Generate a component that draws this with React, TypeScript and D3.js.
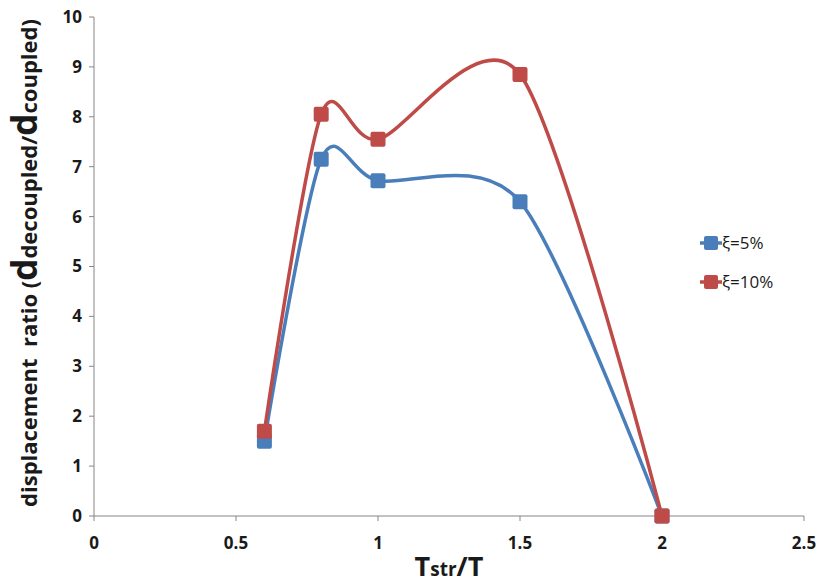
import * as d3 from "d3";

const xTicks = [0, 0.5, 1, 1.5, 2, 2.5];
const yTicks = [0, 1, 2, 3, 4, 5, 6, 7, 8, 9, 10];

const periodRatio = [0.6, 0.8, 1, 1.5, 2];
const damping5 = [1.5, 7.15, 6.72, 6.3, 0];
const damping10 = [1.7, 8.05, 7.55, 8.85, 0];

const series = [
  { label: "ξ=5%", values: damping5, color: "#4a7ebb" },
  { label: "ξ=10%", values: damping10, color: "#be4b48" },
];

export default function App() {
  const width = 818;
  const height = 583;
  const left = 94;
  const right = 804;
  const top = 17;
  const bottom = 516;

  const x = d3.scaleLinear().domain([0, 2.5]).range([left, right]);
  const y = d3.scaleLinear().domain([0, 10]).range([bottom, top]);

  const line = d3
    .line<[number, number]>()
    .x((d) => x(d[0]))
    .y((d) => y(d[1]))
    .curve(d3.curveCardinal.tension(0.15));

  const font = "'Open Sans', 'Liberation Sans', sans-serif";
  const axisColor = "#868686";
  const marker = 15;

  return (
    <svg
      width={width}
      height={height}
      style={{ position: "absolute", left: 0, top: 0, background: "#fff" }}
      fontFamily={font}
    >
      {/* axes */}
      <line x1={left} x2={left} y1={top} y2={bottom} stroke={axisColor} />
      <line x1={left} x2={right} y1={bottom} y2={bottom} stroke={axisColor} />
      {yTicks.map((t) => (
        <g key={t}>
          <line x1={left - 5} x2={left} y1={y(t)} y2={y(t)} stroke={axisColor} />
          <text
            x={left - 12}
            y={y(t)}
            dy="0.35em"
            textAnchor="end"
            fontSize={17}
            fontWeight="bold"
            fill="#1a1a1a"
          >
            {t}
          </text>
        </g>
      ))}
      {xTicks.map((t) => (
        <g key={t}>
          <line x1={x(t)} x2={x(t)} y1={bottom} y2={bottom + 5} stroke={axisColor} />
          <text
            x={x(t)}
            y={bottom + 33}
            textAnchor="middle"
            fontSize={17}
            fontWeight="bold"
            fill="#1a1a1a"
          >
            {t}
          </text>
        </g>
      ))}

      {/* series */}
      {series.map((s) => {
        const pts = periodRatio.map((p, i) => [p, s.values[i]] as [number, number]);
        return (
          <g key={s.label}>
            <path d={line(pts) ?? ""} fill="none" stroke={s.color} strokeWidth={3.5} />
            {pts.map((p, i) => (
              <rect
                key={i}
                x={x(p[0]) - marker / 2}
                y={y(p[1]) - marker / 2}
                width={marker}
                height={marker}
                rx={2}
                fill={s.color}
              />
            ))}
          </g>
        );
      })}

      {/* legend */}
      {series.map((s, i) => {
        const ly = 243 + i * 39;
        return (
          <g key={s.label}>
            <line x1={700} x2={722} y1={ly} y2={ly} stroke={s.color} strokeWidth={3.5} />
            <rect x={704} y={ly - 7} width={14} height={14} rx={2} fill={s.color} />
            <text x={722} y={ly} dy="0.35em" fontSize={17} fill="#1a1a1a">
              {s.label}
            </text>
          </g>
        );
      })}

      {/* axis titles */}
      <text
        transform={`translate(37, 263) rotate(-90)`}
        textAnchor="middle"
        fontWeight="bold"
        fontSize={22}
        fill="#1a1a1a"
        style={{ whiteSpace: "pre" }}
      >
        <tspan>{"displacement  ratio ("}</tspan>
        <tspan fontSize={35}>d</tspan>
        <tspan>decoupled/</tspan>
        <tspan fontSize={35}>d</tspan>
        <tspan>coupled)</tspan>
      </text>
      <text
        x={(left + right) / 2}
        y={576}
        textAnchor="middle"
        fontWeight="bold"
        fontSize={19}
        fill="#1a1a1a"
      >
        <tspan fontSize={27}>T</tspan>
        <tspan>str</tspan>
        <tspan fontSize={27}>/T</tspan>
      </text>
    </svg>
  );
}
